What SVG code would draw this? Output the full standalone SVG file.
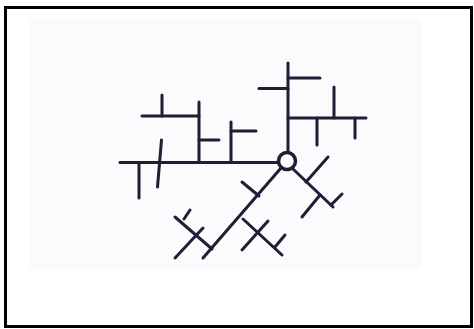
<svg xmlns="http://www.w3.org/2000/svg" width="474" height="329" viewBox="0 0 474 329">
<style>
.ln{stroke:#251b35;stroke-width:3;stroke-linecap:round;fill:none}
</style>
<rect width="474" height="329" fill="#ffffff"/>
<rect x="30" y="18" width="392" height="252" fill="#fbfbfd"/>
<rect x="5.5" y="7.5" width="466" height="319" fill="none" stroke="#000" stroke-width="3"/>
<g id="connectors">
<path class="ln" d="M120 162.5H279"/>
<path class="ln" d="M139 162.5V198"/>
<path class="ln" d="M161.5 140L157.5 187"/>
<path class="ln" d="M142 116H199"/>
<path class="ln" d="M162 95V116"/>
<path class="ln" d="M199 102V162.5"/>
<path class="ln" d="M199 140H219"/>
<path class="ln" d="M231 122V162.5"/>
<path class="ln" d="M231 131H256"/>
<path class="ln" d="M288 63V152"/>
<path class="ln" d="M288 78H320"/>
<path class="ln" d="M259 88.5H288"/>
<path class="ln" d="M288 118H366"/>
<path class="ln" d="M317 118V145"/>
<path class="ln" d="M334 87V118"/>
<path class="ln" d="M355 118V138"/>
<path class="ln" d="M281 168L203 258"/>
<path class="ln" d="M242 182L259 196"/>
<path class="ln" d="M243 219L282 255"/>
<path class="ln" d="M242 250L268 221"/>
<path class="ln" d="M275 247L285 235"/>
<path class="ln" d="M175 217L212 249"/>
<path class="ln" d="M184 219L190 210"/>
<path class="ln" d="M175 258L203 228"/>
<path class="ln" d="M293 169L333 207"/>
<path class="ln" d="M306 182L328 157"/>
<path class="ln" d="M320 195L302 217"/>
<path class="ln" d="M331 205L342 194"/>
</g>
<g id="hub">
<circle cx="287" cy="161" r="8.5" fill="#ffffff" stroke="#251b35" stroke-width="3.5"/>
</g>
</svg>
